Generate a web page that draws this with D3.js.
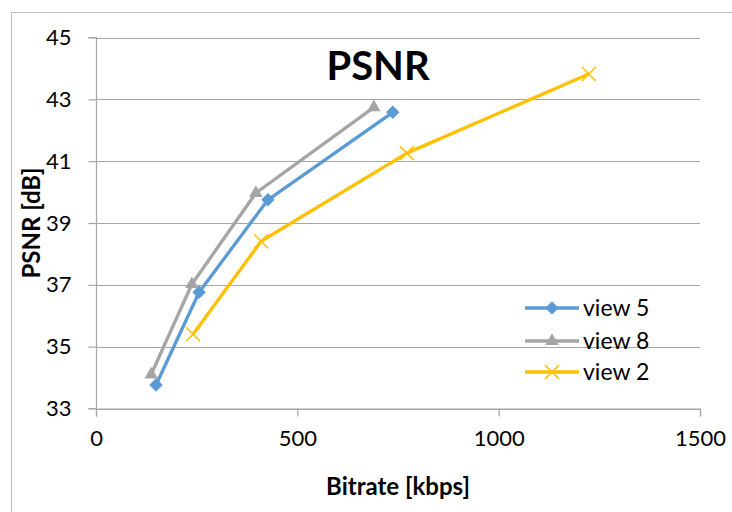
<!DOCTYPE html>
<html><head><meta charset="utf-8">
<script src="https://cdn.jsdelivr.net/npm/d3@7"></script>
<style>body{margin:0;background:#fff}svg{display:block}text{font-family:Lato,"Open Sans",sans-serif}</style>
</head><body>
<svg id="c" width="732" height="512"></svg>
<script>
const seriesNames = ["view 5", "view 8", "view 2"];
const view5Bitrate = [149, 256, 427, 737];
const view5Psnr = [33.76, 36.76, 39.75, 42.58];
const view8Bitrate = [137, 238, 397, 690];
const view8Psnr = [34.1, 37.02, 39.97, 42.74];
const view2Bitrate = [241, 410, 772, 1224];
const view2Psnr = [35.4, 38.41, 41.26, 43.82];
const xTicks = [0, 500, 1000, 1500];
const yTicks = [33, 35, 37, 39, 41, 43, 45];
const colors = ["#5B9BD5", "#A5A5A5", "#FFC000"];
const markers = ["diamond", "triangle", "x"];

const series = [
  {name: seriesNames[0], pts: view5Bitrate.map((b,i)=>({x:b,y:view5Psnr[i]}))},
  {name: seriesNames[1], pts: view8Bitrate.map((b,i)=>({x:b,y:view8Psnr[i]}))},
  {name: seriesNames[2], pts: view2Bitrate.map((b,i)=>({x:b,y:view2Psnr[i]}))}
];

const svg = d3.select("#c");
svg.append("rect").attr("x",11.5).attr("y",12.5).attr("width",800).attr("height",600)
  .attr("fill","#fff").attr("stroke","#BFBFBF").attr("stroke-width",1);

const L=96, R=700, T=37.5, B=408.5;
const x = d3.scaleLinear().domain([0,1500]).range([L,R]);
const y = d3.scaleLinear().domain([33,45]).range([B,T]);

// gridlines
svg.append("g").selectAll("line").data(yTicks).join("line")
  .attr("x1",L).attr("x2",R).attr("y1",d=>Math.round(y(d))+0.5).attr("y2",d=>Math.round(y(d))+0.5)
  .attr("stroke","#A6A6A6").attr("stroke-width",1.2);

// axes
const yAxis = d3.axisLeft(y).tickValues(yTicks).tickSize(8).tickPadding(17).tickFormat(d3.format("d"));
const gy = svg.append("g").attr("transform",`translate(${L+0.5},0)`).call(yAxis);
const xAxis = d3.axisBottom(x).tickValues(xTicks).tickSize(8).tickPadding(14).tickFormat(d3.format("d"));
const gx = svg.append("g").attr("transform",`translate(0,${B})`).call(xAxis);
[gx,gy].forEach(g=>{
  g.select(".domain").attr("stroke","#A6A6A6").attr("stroke-width",1.2);
  g.selectAll(".tick line").attr("stroke","#A6A6A6").attr("stroke-width",1.2);
  g.selectAll("text").attr("font-size",22).attr("fill","#000").attr("font-family","Lato");
});
gy.select(".domain").attr("d",`M-8,${B}H0V${T}H-8`);

const line = d3.line().x(d=>x(d.x)).y(d=>y(d.y));
const sym = {
  diamond: d3.symbol().type(d3.symbolDiamond2).size(115),
  triangle: d3.symbol().type(d3.symbolTriangle2).size(130)
};
function drawMarker(g, kind, cx, cy, color){
  if(kind==="x"){
    const s=7;
    g.append("path").attr("d",`M${cx-s},${cy-s}L${cx+s},${cy+s}M${cx-s},${cy+s}L${cx+s},${cy-s}`)
      .attr("stroke",color).attr("stroke-width",1.6).attr("fill","none");
  } else {
    g.append("path").attr("d",sym[kind]()).attr("transform",`translate(${cx},${cy})`).attr("fill",color);
  }
}

series.forEach((s,i)=>{
  const g = svg.append("g");
  g.append("path").datum(s.pts).attr("d",line).attr("fill","none")
    .attr("stroke",colors[i]).attr("stroke-width",3.3).attr("stroke-linejoin","round");
  s.pts.forEach(p=>drawMarker(g, markers[i], x(p.x), y(p.y), colors[i]));
});

// title
svg.append("text").attr("x",378).attr("y",80).attr("text-anchor","middle")
  .attr("font-size",40).attr("font-weight","bold").text("PSNR");

// axis titles
svg.append("text").attr("x",398).attr("y",495).attr("text-anchor","middle")
  .attr("font-size",24).attr("font-weight","bold").text("Bitrate [kbps]");
svg.append("text").attr("transform","translate(40,223) rotate(-90)").attr("text-anchor","middle")
  .attr("font-size",24).attr("font-weight","bold").text("PSNR [dB]");

// legend
const legY = [308, 341, 372];
series.forEach((s,i)=>{
  const g = svg.append("g");
  g.append("line").attr("x1",525).attr("x2",579).attr("y1",legY[i]).attr("y2",legY[i])
    .attr("stroke",colors[i]).attr("stroke-width",3.3);
  drawMarker(g, markers[i], 552, legY[i], colors[i]);
  g.append("text").attr("x",583).attr("y",legY[i]).attr("dy","0.36em")
    .attr("font-size",23).text(s.name);
});
</script>
</body></html>
